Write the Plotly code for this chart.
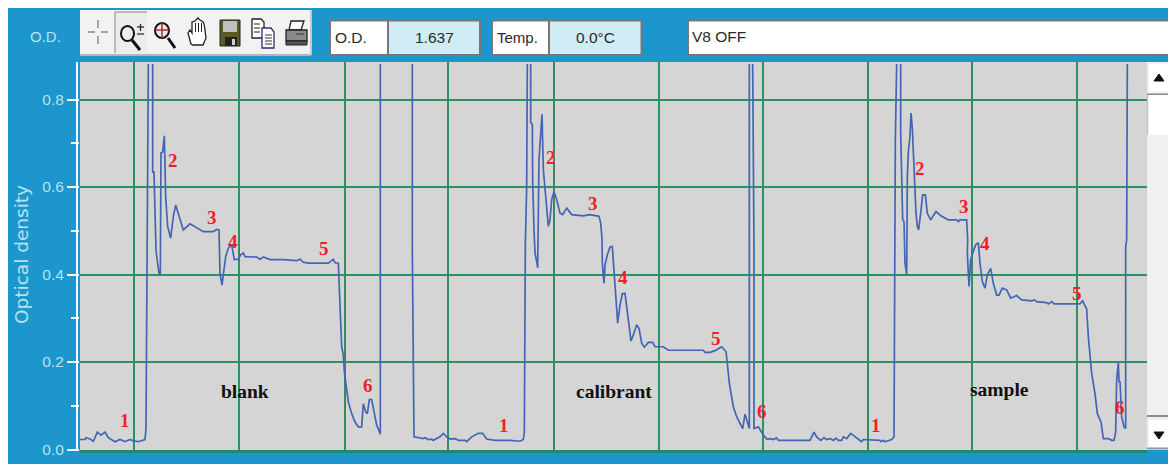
import plotly.graph_objects as go

# time axis (arbitrary units), optical density
t_blank = [240,255,258,270,280,292,303,315,325,345,360,375,390,400,415,435,438,441,443,445,None,
           458,458,462,465,468,472,477,481,483,488,490,493,497,503,512,520,527,535,550,570,590,610,640,650,657,
           658,660,666,672,677,685,695,703,715,722,730,735,770,780,790,810,850,890,900,910,925,950,985,1000,1005,1015,
           1018,1022,1025,1030,1033,1037,1045,1055,1065,1075,1085,1090,1097,1102,1108,1115,1122,1130,1141,1141,None]
od_blank = [.023,.023,.027,.024,.019,.04,.033,.04,.027,.018,.023,.018,.023,.02,.018,.023,.048,.48,.7,.881,None,
            .881,.634,.634,.547,.456,.43,.403,.403,.678,.68,.705,.717,.577,.51,.483,.533,.559,.54,.502,.516,.506,.498,.498,.503,.502,
            .464,.403,.376,.41,.441,.46,.468,.434,.435,.445,.449,.441,.44,.435,.44,.434,.434,.432,.435,.428,.426,.426,.426,.435,.427,.426,
            .38,.292,.235,.216,.178,.151,.109,.082,.063,.052,.052,.105,.086,.082,.114,.114,.09,.056,.035,.881,None]

t_calibrant = [1237,1237,1242,1270,1275,1285,1295,1300,1310,1320,1330,1340,1350,1365,1375,1395,1400,1415,1435,1448,1460,1485,1500,1530,1560,1570,1573,
               1576,1580,1582,None,
               1592,1592,1597,1598,1602,1605,1610,1613,1617,1622,1626,1630,1636,1641,1645,1650,1655,1662,1670,1680,1688,1700,1715,1750,1770,1797,1802,1806,
               1807,1812,1815,1822,1830,1837,1842,1848,1853,1860,1867,1875,1880,1886,1893,1900,1910,1917,1925,1933,1945,1958,1965,1990,2005,2110,2115,2130,2145,2165,2178,
               2182,2188,2200,2210,2228,2235,2248,2248,None,
               2258,2262,2262,2275,2290,2300,2310,2320,2330,2335]
od_calibrant = [.881,.456,.029,.025,.027,.023,.024,.021,.025,.029,.037,.029,.024,.025,.021,.021,.018,.029,.037,.037,.024,.021,.021,.021,.019,.023,.04,
                .468,.6,.881,None,
                .881,.747,.743,.613,.502,.449,.43,.415,.663,.731,.766,.64,.59,.533,.51,.525,.571,.59,.571,.54,.537,.552,.537,.534,.537,.533,.518,.483,
                .426,.38,.422,.445,.463,.464,.403,.33,.289,.33,.356,.357,.323,.281,.248,.262,.285,.277,.243,.234,.245,.245,.235,.235,.227,.227,.222,.222,.226,.235,.224,
                .197,.151,.098,.075,.048,.081,.048,.881,None,
                .881,.46,.048,.052,.033,.024,.025,.023,.027,.021]

t_sample = [2400,2430,2442,2450,2462,2472,2480,2490,2500,2508,2515,2525,2530,2540,2552,2565,2585,2590,2640,2643,2650,2655,2675,2682,2683,2686,2690,None,
            2702,2702,2708,2712,2715,2720,2722,2725,2730,2733,2737,2740,2745,2748,2752,2756,2762,2768,2776,2782,2792,2808,2825,2845,2870,2875,2880,2900,2903,
            2902,2907,2912,2918,2927,2935,2940,2947,2955,2962,2972,2980,2990,2997,3007,3020,3032,3050,3065,3095,3103,3110,3140,3145,3155,3162,3240,3248,
            3260,3265,3270,3275,3285,3292,3303,3310,3325,3335,3342,3347,3350,3355,3357,3360,3365,3372,3377,3377,3380,3382]
od_sample = [.021,.021,.04,.029,.021,.027,.023,.025,.021,.026,.021,.021,.029,.025,.037,.029,.018,.023,.021,.018,.021,.018,.023,.029,.277,.705,.881,None,
             .881,.727,.525,.521,.426,.399,.622,.68,.716,.769,.735,.67,.605,.54,.51,.502,.54,.582,.582,.54,.525,.544,.533,.525,.525,.521,.525,.525,.48,
             .449,.373,.434,.449,.468,.473,.426,.384,.369,.399,.414,.38,.353,.353,.369,.365,.346,.352,.342,.34,.342,.338,.336,.333,.338,.333,.333,.34,
             .321,.258,.22,.174,.128,.082,.063,.025,.025,.021,.021,.04,.159,.2,.155,.155,.075,.052,.048,.464,.479,.881]

y_ticks = [0.0, 0.2, 0.4, 0.6, 0.8]
y_minor = [0.1, 0.3, 0.5, 0.7]
x_grid = [402, 718, 1034, 1345, 1661, 1977, 2288, 2604, 2915, 3231]

step_labels = ["1","2","3","4","5","6","1","2","3","4","5","6","1","2","3","4","5","6"]
step_x = [124.5,173,212,233,324,368,504,551,593,623,716,762,875.5,920,964,985,1076.5,1120]
step_y = [420,160,217,241,249,385,425,157,203,277,338,411,425,168,206,243,293,407]
run_names = ["blank","calibrant","sample"]
run_x = [245,613.5,999.5]
run_y = [391,391,389]

BLUE = "#1c96cd"
LIGHT = "#b9e2f1"
GREEN = "#2f8f5f"
SANS = "Liberation Sans"

def X(v): return (v - 80) / 1067
def Y(v): return (450 - v) / 388

shapes, notes = [], []

def rect(x0, y0, x1, y1, fill, line=None, w=1):
    shapes.append(dict(type="rect", xref="paper", yref="paper", x0=X(x0), y0=Y(y0), x1=X(x1), y1=Y(y1),
                       fillcolor=fill, line=dict(color=line or fill, width=w if line else 0)))

def seg(x0, y0, x1, y1, color, w=1):
    shapes.append(dict(type="line", xref="paper", yref="paper", x0=X(x0), y0=Y(y0), x1=X(x1), y1=Y(y1),
                       line=dict(color=color, width=w)))

def circ(x0, y0, x1, y1, line, w=2, fill="rgba(0,0,0,0)"):
    shapes.append(dict(type="circle", xref="paper", yref="paper", x0=X(x0), y0=Y(y0), x1=X(x1), y1=Y(y1),
                       fillcolor=fill, line=dict(color=line, width=w)))

def poly(pts, fill, line=None, w=1):
    d = "M " + " L ".join(f"{X(a):.5f},{Y(b):.5f}" for a, b in pts) + " Z"
    shapes.append(dict(type="path", xref="paper", yref="paper", path=d, fillcolor=fill,
                       line=dict(color=line or fill, width=w)))

def text(s, x, y, size, color, font=SANS, anchor="center", angle=0, bold=False):
    notes.append(dict(text=f"<b>{s}</b>" if bold else s, xref="paper", yref="paper", x=X(x), y=Y(y),
                      xanchor=anchor, yanchor="middle", showarrow=False, textangle=angle,
                      font=dict(family=font, size=size, color=color)))

# white page edge
rect(0, 0, 1168, 8, "#ffffff")
rect(0, 0, 8, 464, "#ffffff")

# toolbar
rect(80, 10, 311, 55, "#f2f2f2")
seg(80, 55, 311, 55, "#b5b5b5", 2)
seg(311, 10, 311, 55, "#c8c8c8", 2)
rect(115, 12, 147, 53, "#ececec")
seg(115, 12, 147, 12, "#a8a8a8", 1.5)
seg(115, 12, 115, 53, "#a8a8a8", 1.5)
# crosshair
for a in [(88, 32, 95, 32), (101, 32, 108, 32), (98, 20, 98, 28), (98, 36, 98, 44)]:
    seg(*a, "#8a8a8a", 1.5)
# zoom +/-
circ(121, 26, 134, 41, "#111111", 2)
seg(132, 40, 140, 50, "#111111", 3)
seg(137, 27, 144, 27, "#222222", 1.2)
seg(140.5, 24, 140.5, 31, "#222222", 1.2)
seg(137, 34, 144, 34, "#222222", 1.2)
# zoom target
circ(155, 23, 169, 38, "#111111", 2, "#f4e6e6")
seg(155, 30, 169, 30, "#a03030", 1.5)
seg(162, 23, 162, 38, "#a03030", 1.5)
seg(168, 38, 175, 48, "#111111", 3)
# hand
poly([(191, 44), (188, 33), (190, 30), (192, 33), (192, 22), (195, 21), (196, 20), (198, 18), (200, 20), (203, 22),
      (204, 24), (205, 30), (206, 38), (203, 45), (193, 45)], "#ffffff", "#222222", 1.3)
for v in [195.5, 198.5, 201.5]:
    seg(v, 23, v, 32, "#222222", 1)
# floppy
rect(220, 20, 240, 46, "#5a5a22", "#222222", 1)
rect(223, 21, 237, 32, "#c0c0c0")
rect(225, 37, 237, 46, "#222222")
rect(232, 39, 235, 45, "#d0d0d0")
# copy
poly([(252, 19), (261, 19), (264, 22), (264, 38), (252, 38)], "#ffffff", "#222222", 1.3)
poly([(262, 28), (271, 28), (274, 32), (274, 48), (262, 48)], "#ffffff", "#2c2c80", 1.3)
for v in [24, 28, 32]:
    seg(254, v, 260, v, "#222222", 1)
for v in [35, 38, 41, 44]:
    seg(265, v, 272, v, "#333333", 1)
# printer
poly([(291, 21), (304, 21), (301, 30), (289, 30)], "#ffffff", "#222222", 1.3)
rect(286, 30, 307, 41, "#8a8a8a", "#222222", 1.3)
rect(286, 41, 307, 45, "#555555", "#222222", 1)
seg(296, 34, 304, 34, "#333333", 1)

# read-out boxes
rect(330, 20.5, 388, 55, "#ffffff", "#777777", 2)
rect(388, 20.5, 480, 55, "#d0ecf4", "#777777", 2)
rect(492, 20.5, 549, 55, "#ffffff", "#777777", 2)
rect(549, 20.5, 641.5, 55, "#d0ecf4", "#777777", 2)
rect(688, 20.5, 1172, 55, "#ffffff", "#777777", 2)
text("O.D.", 333, 37, 15.5, "#2a2a2a", anchor="left")
text("1.637", 434, 37, 15.5, "#2a2a2a")
text("Temp.", 495, 37, 15, "#2a2a2a", anchor="left")
text("0.0°C", 595, 37, 15.5, "#2a2a2a")
text("V8 OFF", 689.5, 36, 15.5, "#2a2a2a", anchor="left")
text("O.D.", 45, 36, 15, LIGHT)
text("Optical density", 21, 255, 18.5, LIGHT, font="DejaVu Sans", angle=-90)

# axis line next to plot
seg(77, 62, 77, 449.5, "#ffffff", 2)

# scrollbar
rect(1147, 62, 1168, 450, "#f0f0f0")
rect(1149, 64, 1168, 92, "#ffffff")
poly([(1154, 81), (1164, 81), (1159, 74)], "#111111")
seg(1147, 94.5, 1168, 94.5, "#8a8a8a", 2)
rect(1148, 95, 1168, 135, "#ffffff")
seg(1147.5, 95, 1147.5, 135, "#c0c0c0", 1.5)
seg(1147, 416, 1168, 416, "#8a8a8a", 2)
rect(1149, 420, 1168, 447, "#ffffff")
poly([(1154, 432), (1164, 432), (1159, 439)], "#111111")
seg(1147, 448.5, 1168, 448.5, "#9a9a9a", 2)

# marker labels
for s, a, b in zip(step_labels, step_x, step_y):
    text(s, a, b, 19, "#f0202a", font="Liberation Serif", bold=True)
for s, a, b in zip(run_names, run_x, run_y):
    text(s, a, b, 19.5, "#111111", font="Liberation Serif", bold=True)

fig = go.Figure(go.Scatter(x=t_blank + t_calibrant + t_sample, y=od_blank + od_calibrant + od_sample,
                           mode="lines", line=dict(color="#4465b5", width=1.7), connectgaps=False,
                           hoverinfo="skip", showlegend=False))
fig.update_layout(
    width=1168, height=464, autosize=False,
    margin=dict(l=80, r=21, t=62, b=14, pad=0, autoexpand=False),
    paper_bgcolor=BLUE, plot_bgcolor="#d5d5d5",
    shapes=shapes, annotations=notes, showlegend=False,
    xaxis=dict(range=[240, 3441], tickvals=x_grid, showticklabels=False, ticks="", showgrid=True, automargin=False,
               gridcolor=GREEN, gridwidth=2, zeroline=False, showline=True, linecolor="#1d8a72", linewidth=3),
    yaxis=dict(range=[-0.001, 0.8857], tickvals=y_ticks, tickformat=".1f", ticks="outside", ticklen=12, automargin=False,
               tickcolor="#ffffff", tickwidth=1.5, showgrid=True, gridcolor=GREEN, gridwidth=2, zeroline=False,
               showline=False, tickfont=dict(family=SANS, size=15.5, color=LIGHT),
               minor=dict(tickvals=y_minor, ticks="outside", ticklen=8, tickcolor="#ffffff", tickwidth=1.5, showgrid=False)),
)
fig.write_html("out.html", default_width="1168px", default_height="464px", config={"displayModeBar": False},
               post_script="document.documentElement.style.overflow='hidden';document.body.style.margin='0';")
